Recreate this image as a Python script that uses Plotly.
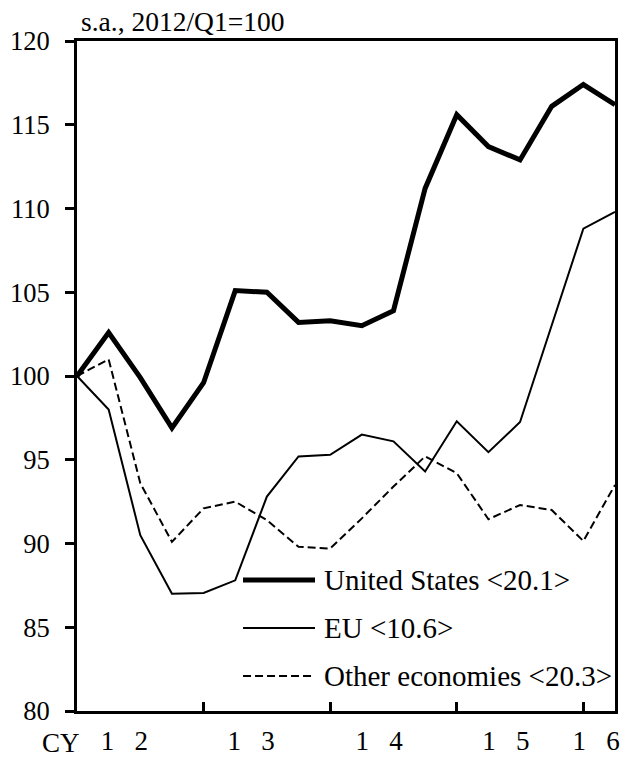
import plotly.graph_objects as go

quarters = list(range(18))  # 2012/Q1 .. 2016/Q2
us = [100.0, 102.6, 99.9, 96.9, 99.6, 105.1, 105.0, 103.2, 103.3, 103.0,
      103.9, 111.2, 115.6, 113.7, 112.9, 116.1, 117.4, 116.2]
eu = [100.0, 98.0, 90.5, 87.0, 87.05, 87.8, 92.8, 95.2, 95.3, 96.5,
      96.1, 94.3, 97.3, 95.45, 97.25, 103.0, 108.8, 109.8]
other = [100.0, 101.0, 93.6, 90.1, 92.1, 92.5, 91.4, 89.8, 89.7, 91.5,
         93.4, 95.2, 94.2, 91.45, 92.3, 92.0, 90.15, 93.5]

series_names = ["United States <20.1>", "EU <10.6>", "Other economies <20.3>"]
year_label_pos = [1.5, 5.5, 9.55, 13.55, 16.4]
SP = "\u00a0\u00a0\u00a0"
year_labels = ["1" + SP + "2", "1" + SP + "3", "1" + SP + "4", "1" + SP + "5", "1" + SP + "6"]
year_boundaries = [4, 8, 12, 16]
y_ticks = [80, 85, 90, 95, 100, 105, 110, 115, 120]

FONT = "Times New Roman, Liberation Serif, DejaVu Serif, serif"
styles = [dict(width=5, dash="solid"), dict(width=2, dash="solid"), dict(width=2, dash="8px,4px")]

fig = go.Figure()
for vals, name, st in zip([us, eu, other], series_names, styles):
    fig.add_trace(go.Scatter(x=quarters, y=vals, mode="lines", name=name,
                             line=dict(color="black", width=st["width"], dash=st["dash"]),
                             showlegend=False, hoverinfo="skip"))

# manual legend (long line samples like the original)
leg_y = [0.1955, 0.1239, 0.0522]
for (yy, name, st) in zip(leg_y, series_names, styles):
    fig.add_shape(type="line", xref="paper", yref="paper", x0=0.3086, x1=0.4424,
                  y0=yy, y1=yy, line=dict(color="black", width=st["width"], dash=st["dash"]))
    fig.add_annotation(xref="paper", yref="paper", x=0.4554, y=yy, text=name,
                       showarrow=False, xanchor="left", yanchor="middle",
                       font=dict(family=FONT, size=29, color="black"))

fig.add_annotation(xref="paper", yref="paper", x=0.004, y=1.0, yshift=2,
                   text="s.a., 2012/Q1=100", showarrow=False,
                   xanchor="left", yanchor="bottom",
                   font=dict(family=FONT, size=27.5, color="black"))
fig.add_annotation(xref="paper", yref="paper", x=-0.03, y=0, yshift=-32,
                   text="CY", showarrow=False, xanchor="center", yanchor="middle",
                   font=dict(family=FONT, size=27, color="black"))

fig.update_xaxes(range=[0, 17], tickvals=year_label_pos, ticktext=year_labels,
                 ticks="inside", ticklen=0, showgrid=False, zeroline=False,
                 showline=True, linecolor="black", linewidth=3, mirror=True,
                 ticklabelstandoff=4, automargin=False,
                 tickfont=dict(family=FONT, size=27, color="black"),
                 minor=dict(tickvals=year_boundaries, ticks="inside", ticklen=9,
                            tickwidth=2.5, tickcolor="black", showgrid=False))
fig.update_yaxes(range=[80, 120], tickvals=y_ticks, ticks="outside", ticklen=9,
                 tickwidth=2.5, tickcolor="black", showgrid=False, zeroline=False,
                 showline=True, linecolor="black", linewidth=3, mirror=True,
                 ticklabelstandoff=10, automargin=False,
                 tickfont=dict(family=FONT, size=26.5, color="black"))
fig.update_layout(width=624, height=758, margin=dict(l=77, r=9, t=41, b=47),
                  plot_bgcolor="white", paper_bgcolor="white")
fig.write_html("out.html", config={"displayModeBar": False},
               post_script="document.body.style.margin='0';")
